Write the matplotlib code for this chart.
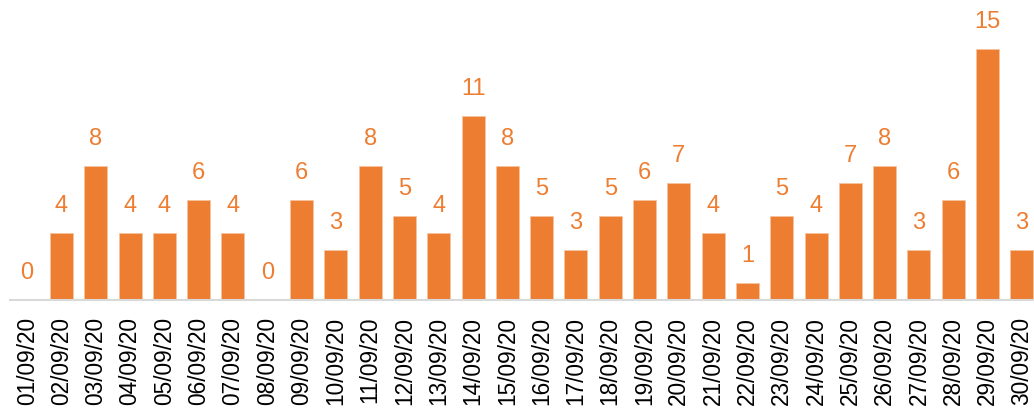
import matplotlib.pyplot as plt

# -------- Data --------
dates = ["01/09/20", "02/09/20", "03/09/20", "04/09/20", "05/09/20", "06/09/20",
         "07/09/20", "08/09/20", "09/09/20", "10/09/20", "11/09/20", "12/09/20",
         "13/09/20", "14/09/20", "15/09/20", "16/09/20", "17/09/20", "18/09/20",
         "19/09/20", "20/09/20", "21/09/20", "22/09/20", "23/09/20", "24/09/20",
         "25/09/20", "26/09/20", "27/09/20", "28/09/20", "29/09/20", "30/09/20"]
counts = [0, 4, 8, 4, 4, 6, 4, 0, 6, 3, 8, 5, 4, 11, 8, 5, 3, 5, 6, 7,
          4, 1, 5, 4, 7, 8, 3, 6, 15, 3]

orange = "#ED7D31"
plt.rcParams["font.family"] = ["Liberation Sans", "DejaVu Sans"]

fig = plt.figure(figsize=(10.34, 4.09), dpi=100)
# axes runs a bit past the right edge, like the cropped original
ax = fig.add_axes([10 / 1034, 109 / 409, 1029 / 1034, 300 / 409])

bars = ax.bar(range(len(dates)), counts, width=0.67, color=orange,
              edgecolor="#f6c3a0", linewidth=0.6)
ax.bar_label(bars, labels=[str(c) for c in counts], padding=11.5,
             color=orange, fontsize=17)

ax.set_xlim(-0.5, len(dates) - 0.5)
ax.set_ylim(0, 17.93)
ax.set_xticks(range(len(dates)))
ax.set_xticklabels(dates, rotation=90, fontsize=16.3, color="#000000")
ax.tick_params(axis="x", length=0, pad=12)
ax.set_yticks([])

for side in ["left", "right", "top"]:
    ax.spines[side].set_visible(False)
ax.spines["bottom"].set_color("#d9d9d9")
ax.spines["bottom"].set_linewidth(1.5)

fig.savefig("out.png", dpi=100)
